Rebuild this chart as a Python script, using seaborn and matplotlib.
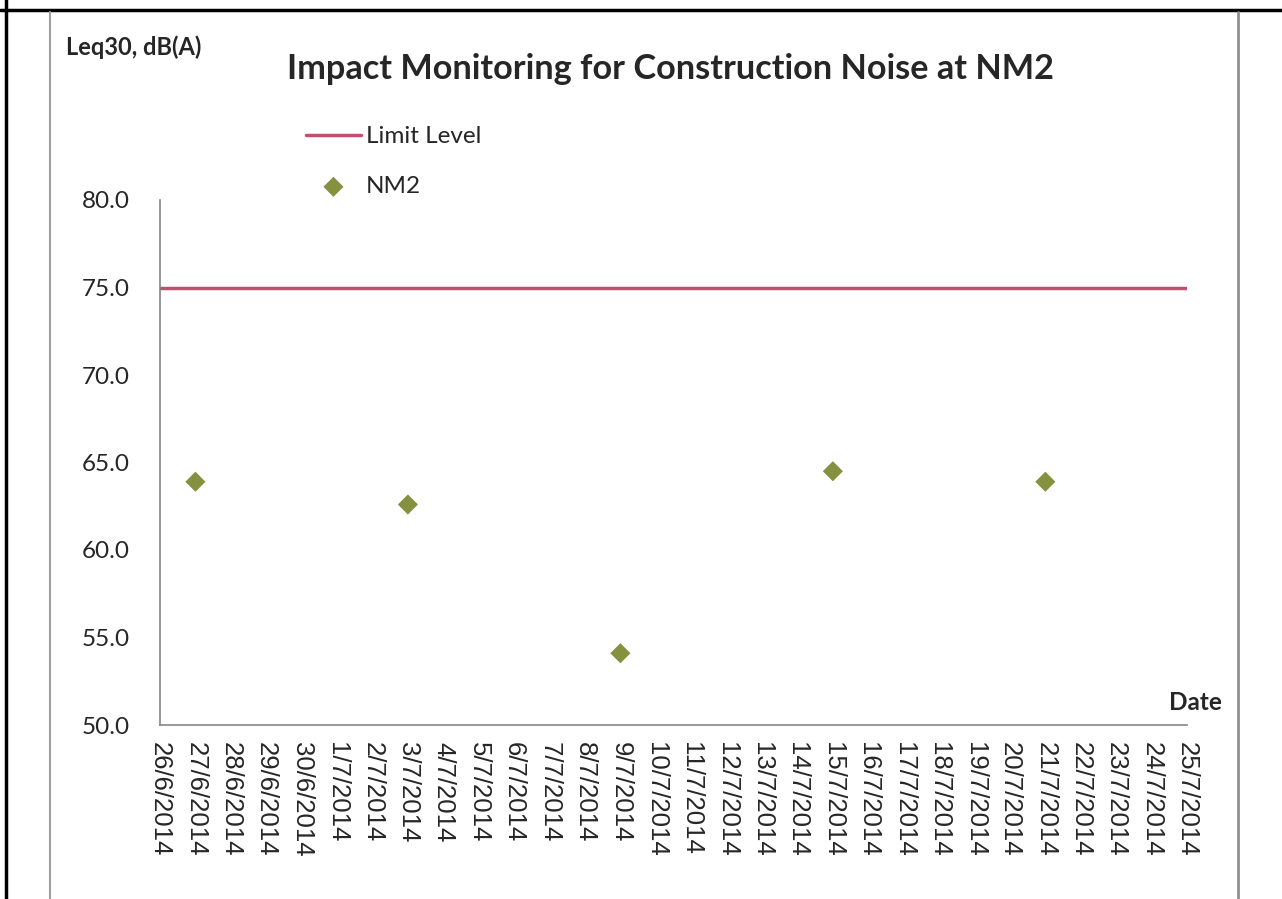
import pandas as pd
import seaborn as sns
import matplotlib.pyplot as plt
import matplotlib.dates as mdates
from matplotlib.lines import Line2D

# data
nm2_dates = ['2014-06-27', '2014-07-03', '2014-07-09', '2014-07-15', '2014-07-21']
nm2_leq = [63.9, 62.6, 54.1, 64.5, 63.9]
limit_dates = ['2014-06-26', '2014-07-25']
limit_level = [75.0, 75.0]

nm2 = pd.DataFrame({'date': pd.to_datetime(nm2_dates), 'leq': nm2_leq})
limit = pd.DataFrame({'date': pd.to_datetime(limit_dates), 'leq': limit_level})

sns.set_style('white')
plt.rcParams['font.family'] = ['Lato', 'DejaVu Sans']

fig = plt.figure(figsize=(12.82, 8.99), dpi=100)
ax = fig.add_axes([160 / 1282, 1 - 725 / 899, 1027 / 1282, 525 / 899])

sns.lineplot(data=limit, x='date', y='leq', ax=ax, color='#c0506e', linewidth=2.5,
             label='Limit Level')
sns.scatterplot(data=nm2, x='date', y='leq', ax=ax, marker='D', s=105, color='#85913f',
                edgecolor='none', label='NM2')

ax.set_xlim(pd.Timestamp('2014-06-26'), pd.Timestamp('2014-07-25'))
ax.set_ylim(50, 80)
ax.set_yticks(range(50, 81, 5))
ax.yaxis.set_major_formatter(plt.FuncFormatter(lambda v, p: f'{v:.1f}'))
ax.xaxis.set_major_locator(mdates.DayLocator())
ax.xaxis.set_major_formatter(plt.FuncFormatter(
    lambda v, p: (lambda d: f'{d.day}/{d.month}/{d.year}')(mdates.num2date(v))))

ax.set_xlabel('')
ax.set_ylabel('')
ax.tick_params(axis='x', direction='in', length=8, width=1, color='#868686', pad=12,
               labelrotation=270, labelsize=18.5, labelfontfamily='Liberation Sans')
ax.tick_params(axis='y', direction='in', length=8, width=1, color='#868686', pad=22,
               labelsize=17.5)

sns.despine(ax=ax)
for s in ['left', 'bottom']:
    ax.spines[s].set_color('#868686')
    ax.spines[s].set_linewidth(1.2)

ax.legend(loc='upper left', bbox_to_anchor=(306 / 1282, 1 - 126 / 899),
          bbox_transform=fig.transFigure, frameon=False, fontsize=17.5,
          handlelength=2.26, handletextpad=0.2, labelspacing=1.2,
          borderpad=0, borderaxespad=0)

fig.text(287 / 1282, 1 - 69 / 899, 'Impact Monitoring for Construction Noise at NM2',
         fontsize=24.7, fontweight='bold', va='center', ha='left')
fig.text(66 / 1282, 1 - 47 / 899, 'Leq30, dB(A)', fontsize=17, fontweight='bold',
         va='center', ha='left')
fig.text(1222 / 1282, 1 - 703 / 899, 'Date', fontsize=17.5, fontweight='bold',
         va='center', ha='right')

# table frame and chart area border
fig.add_artist(Line2D([0, 1], [1 - 10 / 899, 1 - 10 / 899], color='black', lw=2.5))
fig.add_artist(Line2D([6 / 1282, 6 / 1282], [0, 1], color='black', lw=2.5))
fig.add_artist(Line2D([50 / 1282, 50 / 1282], [0, 1 - 12 / 899], color='#a0a0a0', lw=1.5))
fig.add_artist(Line2D([1238 / 1282, 1238 / 1282], [0, 1 - 12 / 899], color='#909090', lw=2))

fig.savefig('out.png', dpi=100)
